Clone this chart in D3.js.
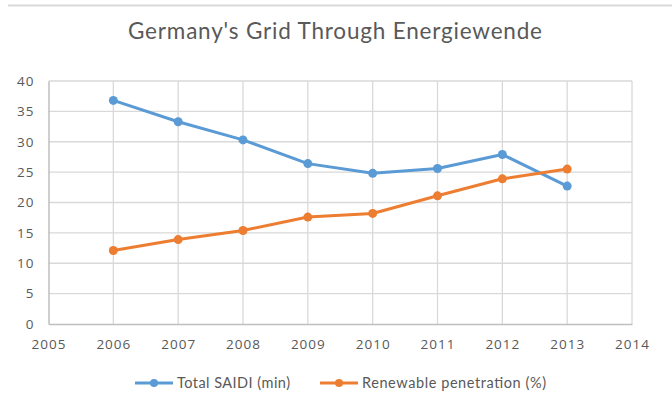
<!DOCTYPE html>
<html><head><meta charset="utf-8">
<script src="https://cdn.jsdelivr.net/npm/d3@7"></script>
<style>body{margin:0;background:#fff;} svg{display:block;font-family:"Open Sans", Lato, sans-serif;}</style>
</head><body>
<svg id="c" width="672" height="411"></svg>
<script>
const years = [2006, 2007, 2008, 2009, 2010, 2011, 2012, 2013];
const saidi = [36.8, 33.3, 30.3, 26.4, 24.8, 25.6, 27.9, 22.7];
const renewable = [12.1, 13.9, 15.4, 17.6, 18.2, 21.1, 23.9, 25.5];
const seriesNames = ["Total SAIDI (min)", "Renewable penetration (%)"];
const xTicks = [2005, 2006, 2007, 2008, 2009, 2010, 2011, 2012, 2013, 2014];
const yTicks = [0, 5, 10, 15, 20, 25, 30, 35, 40];
const colors = ["#5b9bd5", "#ed7d31"];

const svg = d3.select("#c");
const x = d3.scaleLinear().domain([2005, 2014]).range([48.5, 632]);
const y = d3.scaleLinear().domain([0, 40]).range([324, 81]);

// top frame line
svg.append("line").attr("x1", 8).attr("x2", 672).attr("y1", 5.5).attr("y2", 5.5)
  .attr("stroke", "#d9d9d9").attr("stroke-width", 2);

svg.append("text").attr("x", 128).attr("y", 38.5)
  .attr("textLength", 414).attr("lengthAdjust", "spacing")
  .attr("fill", "#595959").style("font-size", "22.5px").style("font-family", "Lato, sans-serif")
  .text("Germany's Grid Through Energiewende");

// gridlines
const g = svg.append("g");
g.selectAll(".hg").data(yTicks.filter(d => d > 0)).join("line")
  .attr("x1", x(2005)).attr("x2", x(2014)).attr("y1", d => y(d)).attr("y2", d => y(d))
  .attr("stroke", "#d9d9d9").attr("stroke-width", 1.3);
g.selectAll(".vg").data(xTicks.filter(d => d > 2005)).join("line")
  .attr("x1", d => x(d)).attr("x2", d => x(d)).attr("y1", y(40)).attr("y2", y(0))
  .attr("stroke", "#d9d9d9").attr("stroke-width", 1.3);

// axes
const xAxis = d3.axisBottom(x).tickValues(xTicks).tickFormat(d3.format("d")).tickSize(0).tickPadding(15);
const yAxis = d3.axisLeft(y).tickValues(yTicks).tickSize(0).tickPadding(14);
const gx = svg.append("g").attr("transform", `translate(0,${y(0)})`).call(xAxis);
const gy = svg.append("g").attr("transform", `translate(${x(2005)},0)`).call(yAxis);
[gx, gy].forEach(a => {
  a.select(".domain").attr("stroke", "#bfbfbf").attr("stroke-width", 1.5);
  a.selectAll("text").attr("fill", "#595959").style("font-size", "13.5px")
    .style("font-family", "'Open Sans', sans-serif").style("letter-spacing", "1px");
});

// lines
const data = [saidi, renewable];
const line = d3.line().x((d, i) => x(years[i])).y(d => y(d));
data.forEach((s, k) => {
  svg.append("path").datum(s).attr("d", line).attr("fill", "none")
    .attr("stroke", colors[k]).attr("stroke-width", 3).attr("stroke-linejoin", "round");
  svg.selectAll(".p" + k).data(s).join("circle")
    .attr("cx", (d, i) => x(years[i])).attr("cy", d => y(d)).attr("r", 4.5).attr("fill", colors[k]);
});

// legend
const leg = [{x: 135, tx: 177, w: 113}, {x: 320, tx: 362, w: 184}];
seriesNames.forEach((n, k) => {
  const lg = svg.append("g");
  lg.append("line").attr("x1", leg[k].x).attr("x2", leg[k].x + 38).attr("y1", 383).attr("y2", 383)
    .attr("stroke", colors[k]).attr("stroke-width", 3);
  lg.append("circle").attr("cx", leg[k].x + 19).attr("cy", 383).attr("r", 4).attr("fill", colors[k]);
  lg.append("text").attr("x", leg[k].tx).attr("y", 388).attr("fill", "#595959")
    .attr("textLength", leg[k].w).attr("lengthAdjust", "spacing")
    .style("font-size", "14.5px").style("font-family", "Lato, sans-serif").text(n);
});
</script>
</body></html>
